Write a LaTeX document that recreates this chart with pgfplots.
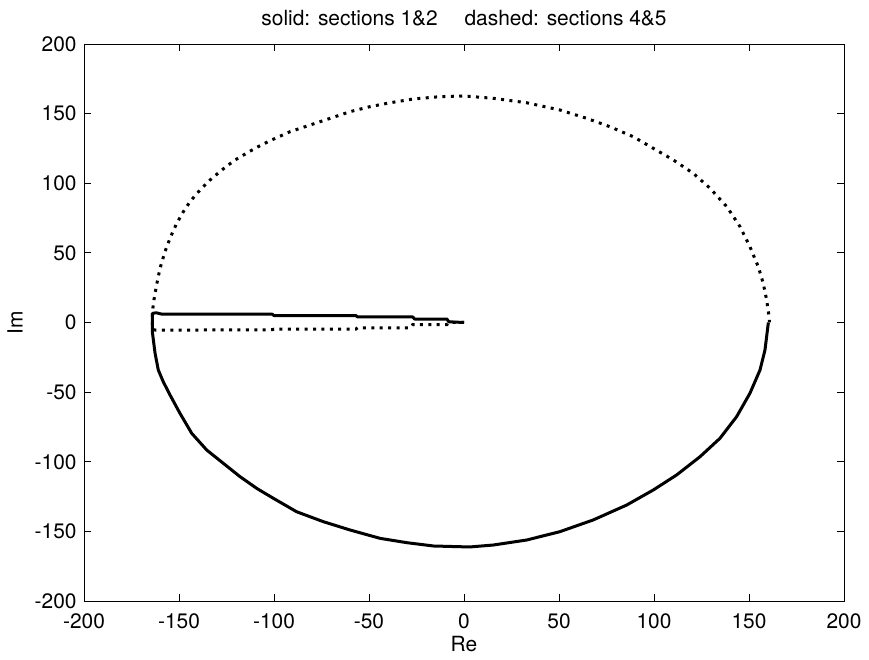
\documentclass[border=0pt]{standalone}
\usepackage{pgfplots}
\pgfplotsset{compat=1.18}
\usepackage{fontspec}
\setmainfont{TeX Gyre Heros}
\begin{document}
\begin{tikzpicture}
  \begin{axis}[
      scale only axis,
      width=380bp, height=278.5bp,
      xmin=-200, xmax=200, ymin=-200, ymax=200,
      xtick={-200,-150,...,200},
      ytick={-200,-150,...,200},
      tick align=inside,
      major tick length=3.5bp,
      axis line style={line width=0.4pt},
      every tick/.style={black, line width=0.4pt},
      font=\fontsize{10.5}{12}\selectfont,
      /pgf/number format/assume math mode=true,
      xticklabel style={inner sep=0pt, anchor=north, yshift=-6bp},
      yticklabel style={inner sep=0pt, anchor=east, xshift=-3.5bp},
      title={solid: sections 1\&2\quad\ dashed: sections 4\&5},
      title style={at={(axis description cs:0.5,1)}, anchor=base, inner sep=0pt, yshift=3.5bp},
      xlabel={Re},
      xlabel style={at={(axis description cs:0.5,0)}, anchor=north, inner sep=0pt, yshift=-17.5bp},
      ylabel={Im},
      ylabel style={at={(axis description cs:0,0.5)}, anchor=center, inner sep=0pt, yshift=34.5bp},
    ]
    % solid: sections 1&2
    \addplot[black, line width=1.5bp, line join=round] coordinates {
      (0,0) (-8,0.5) (-9,2.5) (-26,2.5) (-27,4) (-56,4) (-57,5) (-100,5) (-101,6)
      (-159,6) (-162,7) (-164,6.5) (-164,-7)
      (-162.6,-22.1) (-160.9,-34.1) (-158.3,-42.5) (-154.7,-52.1) (-149.5,-65.2)
      (-143.3,-79.6) (-135.4,-91.6) (-126.7,-101.1) (-117.9,-110.7) (-109.1,-119.1)
      (-100.4,-126.2) (-88.1,-135.9) (-74.1,-143) (-60,-149) (-44.2,-155)
      (-30.2,-158.1) (-16.1,-160.5) (3,-161.2) (15.4,-159.8) (33,-156.2)
      (50.5,-150.2) (68,-141.8) (85.6,-131.1) (99.6,-120.3) (111.9,-109.5)
      (124.2,-96.4) (134.7,-83.2) (143.5,-67.6) (150.5,-50.8) (155.8,-34.1)
      (158.4,-19.8) (160.2,0)
    };
    % dashed: sections 4&5
    \addplot[black, line width=1.5bp, line cap=butt, dash pattern=on 1.5bp off 2.7bp] coordinates {
      (0,0) (-8,0) (-9,-1.5) (-27,-1.5) (-28,-3.8) (-56,-3.8) (-57,-4.8) (-100,-4.8)
      (-101,-5.2) (-162,-5.5) (-164,-5) (-164,6)
      (-163.5,13.8) (-161.8,26.9) (-160,38.9) (-157.4,50.8) (-154.4,61.6)
      (-151.2,71.2) (-147.7,79.6) (-144.2,86.8) (-138.9,95.2) (-133.7,102.3)
      (-127.5,109.5) (-120.5,116.7) (-110,125.1) (-101.2,131.1) (-91.6,137)
      (-81.1,141.8) (-70.5,146.6) (-60,151.4) (-49.5,155) (-38.9,157.8)
      (-26.7,160.5) (-12.6,162.2) (0,162.7) (15.4,161) (33,157.8) (50.5,152.6)
      (64.6,146.6) (76.8,140.6) (89.1,133.4) (99.6,125.1) (110.2,116.7)
      (120.7,107.1) (129.5,96.4) (138.3,83.2) (145.3,68.8) (150.5,54.4)
      (154.9,40) (157.5,28.1) (159.3,16.2) (160.7,3) (160.7,0)
    };
  \end{axis}
  \path (current axis.south west) ++(-42bp,-29.5bp) rectangle ++(434.5bp,330bp);
\end{tikzpicture}
\end{document}
